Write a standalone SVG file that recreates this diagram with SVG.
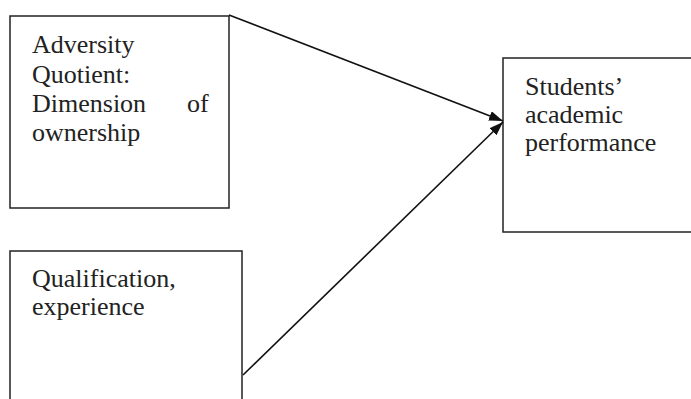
<svg xmlns="http://www.w3.org/2000/svg" width="691" height="399" viewBox="0 0 691 399">
<style>
.box{fill:#fff;stroke:#222;stroke-width:1.5}
.t{font-family:"Liberation Serif","Times New Roman",serif;font-size:26px;fill:#222}
.c{stroke:#111;stroke-width:1.6;fill:none}
</style>
<defs>
<marker id="ah" viewBox="0 0 14 10" refX="14" refY="5" markerWidth="14" markerHeight="10" markerUnits="userSpaceOnUse" orient="auto">
<path d="M0,0 L14,5 L0,10 z" fill="#111"/>
</marker>
</defs>
<rect width="691" height="399" fill="#fff"/>
<g id="node-aq">
<rect class="box" x="10" y="16" width="219" height="192"/>
<text class="t" x="32" y="53">Adversity</text>
<text class="t" x="32" y="83">Quotient:</text>
<text class="t" x="32" y="112">Dimension</text>
<text class="t" x="187" y="112">of</text>
<text class="t" x="32" y="141">ownership</text>
</g>
<g id="node-qe">
<rect class="box" x="10" y="251" width="232" height="170"/>
<text class="t" x="32" y="287">Qualification,</text>
<text class="t" x="32" y="315">experience</text>
</g>
<g id="node-sap">
<rect class="box" x="503" y="58" width="200" height="174"/>
<text class="t" x="525" y="95">Students’</text>
<text class="t" x="525" y="123">academic</text>
<text class="t" x="525" y="151">performance</text>
</g>
<g id="connectors">
<line class="c" x1="229" y1="15" x2="503" y2="121" marker-end="url(#ah)"/>
<line class="c" x1="243" y1="375" x2="503" y2="122" marker-end="url(#ah)"/>
</g>
</svg>
